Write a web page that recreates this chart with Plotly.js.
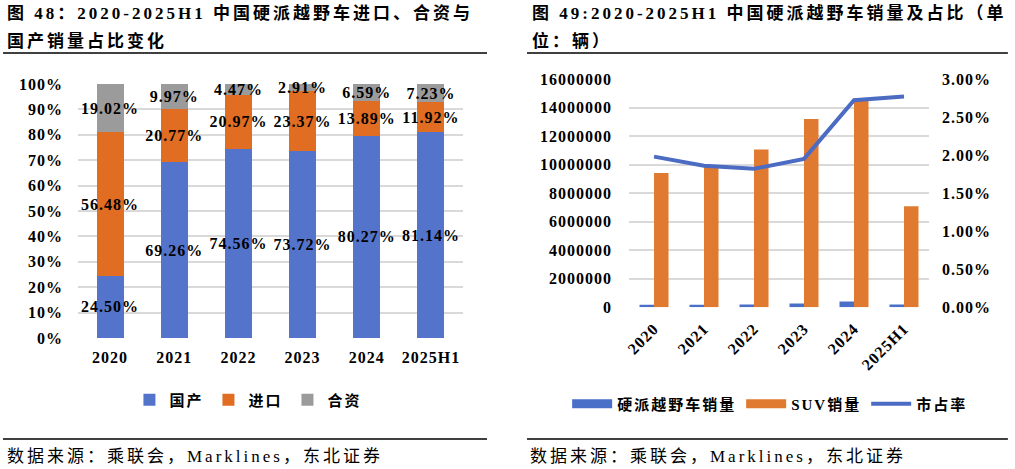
<!DOCTYPE html>
<html>
<head>
<meta charset="utf-8">
<script src="https://cdn.plot.ly/plotly-3.0.1.min.js"></script>
<style>
  body { margin: 0; background: #fff; }
  #left-chart  { position: absolute; left: 0;     top: 0; width: 507px; height: 469px; }
  #right-chart { position: absolute; left: 507px; top: 0; width: 508px; height: 469px; }
  .annotation-text { letter-spacing: 3px; }
  .xtick text, .ytick text, .y2tick text, .bartext { letter-spacing: 1px; }
  .legendtext { letter-spacing: 2px; }
</style>
</head>
<body>
<div id="left-chart"></div>
<div id="right-chart"></div>
<script>
// ------------------------------------------------------------------------------
// DATA

const years        = ['2020', '2021', '2022', '2023', '2024', '2025H1'];

// 图48 share of sales (%)
const domestic     = [24.50, 69.26, 74.56, 73.72, 80.27, 81.14];
const imported     = [56.48, 20.77, 20.97, 23.37, 13.89, 11.92];
const jointVenture = [19.02,  9.97,  4.47,  2.91,  6.59,  7.23];

// 图49 sales (辆) and market share
const hardSuvSales = [186000, 183000, 201000, 257000, 398000, 196000];
const suvSales     = [9410000, 9850000, 11050000, 13200000, 14650000, 7080000];
const marketShare  = [0.0198, 0.0186, 0.0182, 0.0195, 0.0272, 0.0277];

const sourceText   = '数据来源：乘联会，Marklines，东北证券';

// ------------------------------------------------------------------------------
// STYLE

const font_family = 'Liberation Serif, "Noto Sans CJK SC", serif';
const grid_color  = '#D9D9D9';

const displayConfig = {
    displayModeBar: false,
    staticPlot: true
};

function pct(v) {
    return v.toFixed(2) + '%';
}

function titleAnnotation(text, x, y, size, bold) {
    return {
        text: text,
        xref: 'paper', yref: 'paper',
        x: x, y: y,
        xanchor: 'left', yanchor: 'middle',
        showarrow: false,
        font: { family: font_family, size: size, color: '#000', weight: bold ? 'bold' : 'normal' }
    };
}

function rule(x0, x1, y) {
    return {
        type: 'line', xref: 'paper', yref: 'paper',
        x0: x0, x1: x1, y0: y, y1: y,
        line: { color: '#000', width: 1.5 }
    };
}

const tickFont = { family: font_family, size: 16, color: '#000', weight: 'bold' };

// ------------------------------------------------------------------------------
// LEFT: 100% stacked bars

function stackBar(name, values, color) {
    return {
        type: 'bar',
        name: name,
        x: years,
        y: values,
        text: values.map(pct),
        textposition: 'inside',
        insidetextanchor: 'middle',
        constraintext: 'none',
        textangle: 0,
        cliponaxis: false,
        insidetextfont: { family: font_family, size: 16, color: '#000', weight: 'bold' },
        marker: { color: color },
        hoverinfo: 'none'
    };
}

const leftData = [
    stackBar('国产', domestic, '#5474CB'),
    stackBar('进口', imported, '#E06D22'),
    stackBar('合资', jointVenture, '#9B9B9B')
];

const leftLayout = {
    width: 507, height: 469,
    margin: { l: 0, r: 0, t: 0, b: 0 },
    paper_bgcolor: '#fff', plot_bgcolor: '#fff',
    barmode: 'stack',
    barnorm: 'percent',
    bargap: 0.58,
    showlegend: true,
    legend: {
        orientation: 'h',
        x: 0.49, y: 0.147,
        xanchor: 'center', yanchor: 'middle',
        font: { family: font_family, size: 15, color: '#000', weight: 'bold' },
        itemwidth: 30,
        traceorder: 'normal'
    },
    xaxis: {
        domain: [0.1538, 0.9132],
        type: 'category',
        showgrid: false,
        zeroline: false,
        showline: false,
        ticks: '',
        ticklabelstandoff: 8,
        tickfont: tickFont
    },
    yaxis: {
        domain: [0.2793, 0.8209],
        range: [0, 100],
        dtick: 10,
        ticksuffix: '%',
        showgrid: true,
        gridcolor: grid_color,
        gridwidth: 2,
        zeroline: false,
        showline: false,
        ticks: '',
        ticklabelstandoff: 14,
        tickfont: tickFont
    },
    annotations: [
        titleAnnotation('图 48：2020-2025H1 中国硬派越野车进口、合资与', 0.0099, 0.9723, 17, true),
        titleAnnotation('国产销量占比变化', 0.0099, 0.9126, 17, true),
        titleAnnotation(sourceText, 0.0099, 0.0277, 17, false)
    ],
    shapes: [
        rule(0.0059, 0.9606, 0.887),
        rule(0.0059, 0.9606, 0.064)
    ]
};

// ------------------------------------------------------------------------------
// RIGHT: grouped bars + share line

const hardColor  = '#4A6FC8';
const suvColor   = '#E07A30';
const shareColor = '#4C6CC4';

// legend-only swatches so the bar keys are drawn as wide bands like the original
function legendBand(name, color, group) {
    return {
        type: 'scatter',
        mode: 'lines',
        name: name,
        legendgroup: group,
        x: [null],
        y: [null],
        line: { color: color, width: 9 },
        hoverinfo: 'none'
    };
}

const rightData = [
    {
        type: 'bar',
        name: '硬派越野车销量',
        legendgroup: 'hard',
        showlegend: false,
        x: years,
        y: hardSuvSales,
        marker: { color: hardColor },
        hoverinfo: 'none'
    },
    {
        type: 'bar',
        name: 'SUV销量',
        legendgroup: 'suv',
        showlegend: false,
        x: years,
        y: suvSales,
        marker: { color: suvColor },
        hoverinfo: 'none'
    },
    legendBand('硬派越野车销量', hardColor, 'hard'),
    legendBand('SUV销量', suvColor, 'suv'),
    {
        type: 'scatter',
        mode: 'lines',
        name: '市占率',
        x: years,
        y: marketShare,
        yaxis: 'y2',
        line: { color: shareColor, width: 4 },
        hoverinfo: 'none'
    }
];

const rightLayout = {
    width: 508, height: 469,
    margin: { l: 0, r: 0, t: 0, b: 0 },
    paper_bgcolor: '#fff', plot_bgcolor: '#fff',
    barmode: 'group',
    bargap: 0.42,
    bargroupgap: 0,
    showlegend: true,
    legend: {
        orientation: 'h',
        x: 0.518, y: 0.1386,
        xanchor: 'center', yanchor: 'middle',
        font: { family: font_family, size: 15, color: '#000', weight: 'bold' },
        itemwidth: 40,
        traceorder: 'normal'
    },
    xaxis: {
        domain: [0.2402, 0.8307],
        type: 'category',
        showgrid: false,
        zeroline: false,
        showline: false,
        ticks: '',
        tickangle: -45,
        ticklabelstandoff: 8,
        tickfont: tickFont
    },
    yaxis: {
        domain: [0.3448, 0.8316],
        range: [0, 16000000],
        dtick: 2000000,
        tickformat: 'd',
        showgrid: true,
        gridcolor: grid_color,
        gridwidth: 2,
        zeroline: false,
        showline: false,
        ticks: '',
        ticklabelstandoff: 16,
        tickfont: tickFont
    },
    yaxis2: {
        overlaying: 'y',
        side: 'right',
        range: [0, 0.03],
        dtick: 0.005,
        tickformat: '.2%',
        showgrid: false,
        zeroline: false,
        showline: false,
        ticks: '',
        ticklabelstandoff: 12,
        tickfont: tickFont
    },
    annotations: [
        titleAnnotation('图 49:2020-2025H1 中国硬派越野车销量及占比（单', 0.0453, 0.9723, 17, true),
        titleAnnotation('位：辆）', 0.0453, 0.9126, 17, true),
        titleAnnotation(sourceText, 0.041, 0.0277, 17, false)
    ],
    shapes: [
        rule(0.0394, 0.986, 0.887),
        rule(0.0394, 0.986, 0.064)
    ]
};

Plotly.newPlot('left-chart', leftData, leftLayout, displayConfig);
Plotly.newPlot('right-chart', rightData, rightLayout, displayConfig);
</script>
</body>
</html>
